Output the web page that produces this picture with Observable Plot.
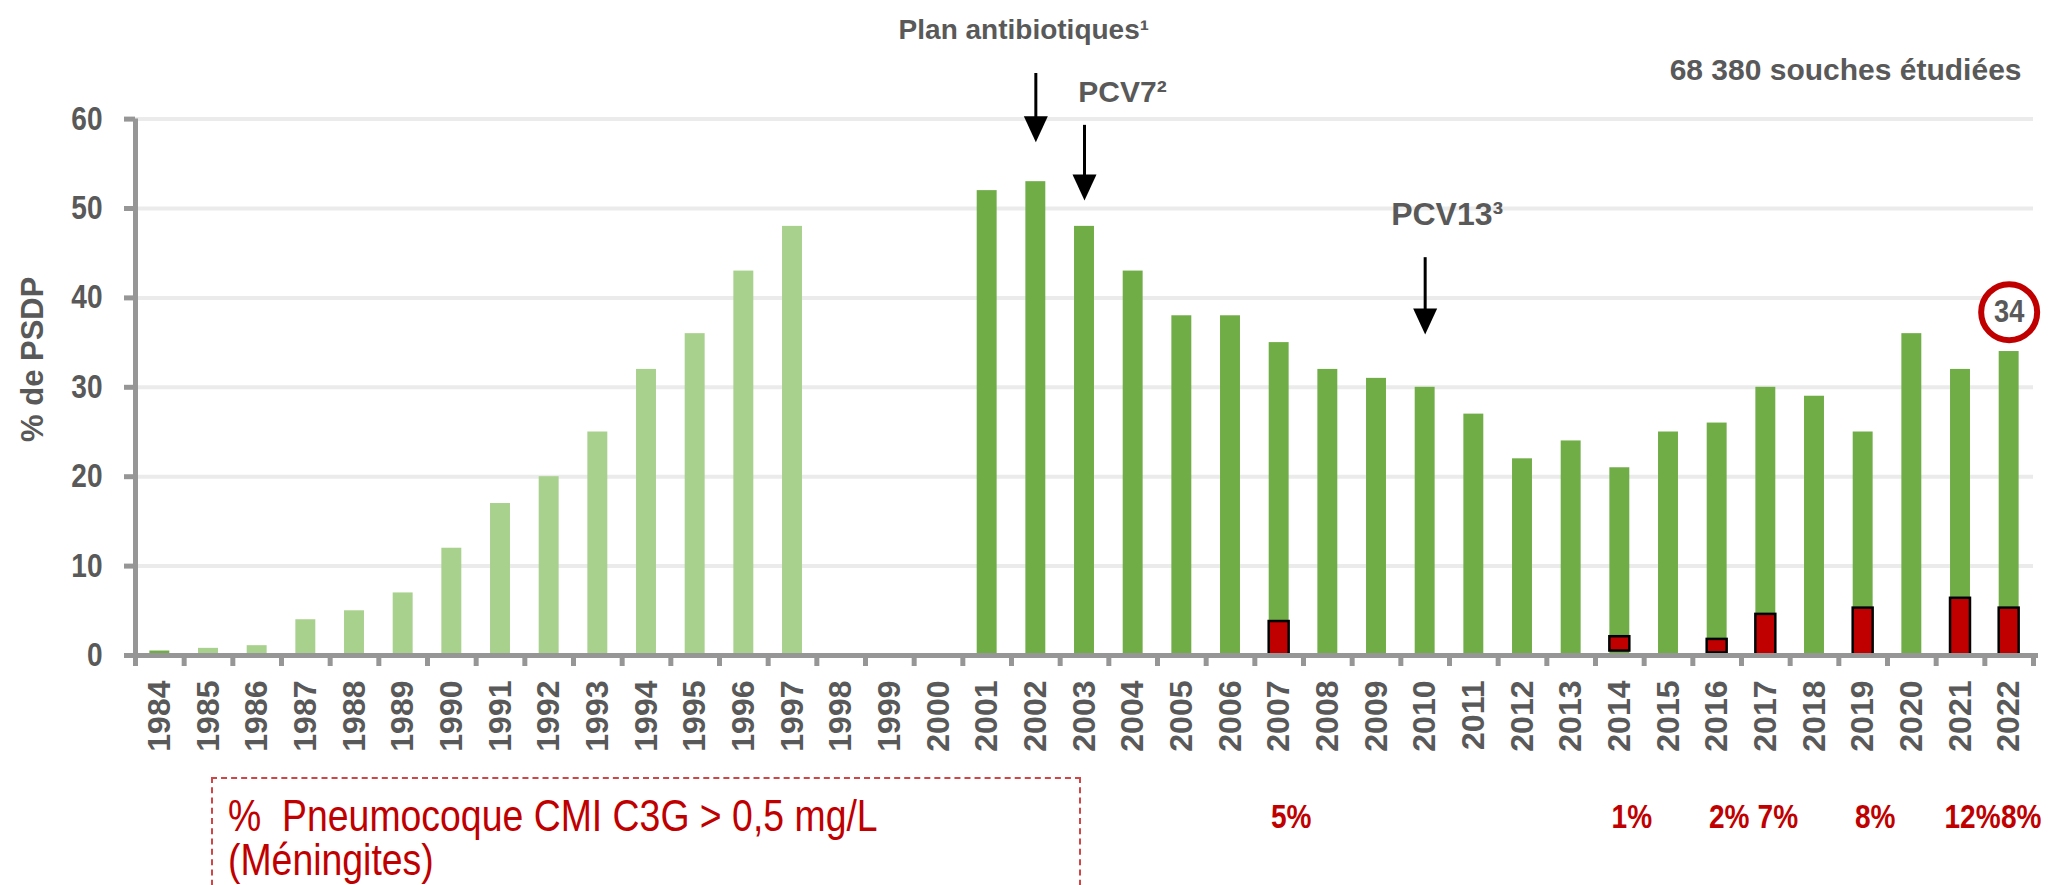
<!DOCTYPE html>
<html><head><meta charset="utf-8">
<script src="https://cdn.jsdelivr.net/npm/d3@7"></script>
<script src="https://cdn.jsdelivr.net/npm/@observablehq/plot@0.6"></script>
<style>
body{margin:0;background:#fff;overflow:hidden}
#wrap{position:relative;width:2067px;height:885px}
#box{position:absolute;left:211px;top:777px;width:870px;height:160px;border:2px dashed #d04545;box-sizing:border-box}
#legend{position:absolute;left:228px;top:794px;color:#c00000;font-family:"Liberation Sans",Arial,sans-serif;font-size:44px;line-height:44px;white-space:pre;transform:scaleX(0.85);transform-origin:0 0}
</style></head>
<body><div id="wrap"><div id="box"></div><div id="legend">%  Pneumocoque CMI C3G &gt; 0,5 mg/L
(Méningites)</div></div>
<script>
const years = [1984,1985,1986,1987,1988,1989,1990,1991,1992,1993,1994,1995,1996,1997,1998,1999,2000,2001,2002,2003,2004,2005,2006,2007,2008,2009,2010,2011,2012,2013,2014,2015,2016,2017,2018,2019,2020,2021,2022];
const lightYears = [1985,1986,1987,1988,1989,1990,1991,1992,1993,1994,1995,1996,1997];
const lightValues = [0.8,1.1,4,5,7,12,17,20,25,32,36,43,48];
const darkYears = [1984,2001,2002,2003,2004,2005,2006,2007,2008,2009,2010,2011,2012,2013,2014,2015,2016,2017,2018,2019,2020,2021,2022];
const darkValues = [0.5,52,53,48,43,38,38,35,32,31,30,27,22,24,21,25,26,30,29,25,36,32,34];
const redYears = [2007,2014,2016,2017,2019,2021,2022];
const redLow = [0,0.5,0.3,0,0,0,0];
const redHigh = [3.8,2.1,1.8,4.6,5.3,6.4,5.3];
const redLabels = ["5%","1%","2%","7%","8%","12%","8%"];
const yTicks = [0,10,20,30,40,50,60];
const annYears = [2002,2003,2010];
const annLabels = ["Plan antibiotiques¹","PCV7²","PCV13³"];
const annTextY = [70.0,63.0,49.3];
const arrowTop = [65.1,59.3,44.5];
const arrowTip = [57.4,50.9,35.9];
const highlightYear = 2022, highlightValue = 34;

const W = 2067, H = 885, ML = 135, MR = 34, MT = 118.6, MB = 230;
const half = (W - ML - MR) / years.length / 2;
const gray = "#969696", txt = "#595959", red = "#c00000";
const F = "'Liberation Sans',Arial,sans-serif";
const arrowHead = {draw(ctx){ctx.moveTo(0,0);ctx.lineTo(-12,-26);ctx.lineTo(12,-26);ctx.closePath();}};

const chart = Plot.plot({
  width: W, height: H, marginLeft: ML, marginRight: MR, marginTop: MT, marginBottom: MB,
  style: {fontFamily: F, background: "transparent", overflow: "visible"},
  x: {type: "band", domain: years, paddingInner: 0.59, paddingOuter: 0.295, round: false},
  y: {domain: [0, 60], axis: null},
  marks: [
    Plot.ruleY(yTicks.slice(1), {stroke: "#ebebeb", strokeWidth: 4}),
    Plot.barY(lightYears, {x: d => d, y: (d, i) => lightValues[i], fill: "#a9d18e"}),
    Plot.barY(darkYears, {x: d => d, y: (d, i) => darkValues[i], fill: "#70ad47"}),
    Plot.barY(redYears, {x: d => d, y1: (d, i) => redLow[i], y2: (d, i) => redHigh[i], fill: red, stroke: "#000", strokeWidth: 2.5}),
    Plot.ruleY(yTicks.slice(1), {stroke: gray, strokeWidth: 5, insetLeft: -11, insetRight: W - ML - MR}),
    Plot.ruleY([0], {stroke: gray, strokeWidth: 5, insetLeft: -11, insetRight: -5}),
    Plot.ruleX([years[0]], {x: d => d, y1: 0, y2: 60, dx: -half, stroke: gray, strokeWidth: 5}),
    Plot.ruleX(years, {x: d => d, y1: 0, y2: 0, insetBottom: -11, dx: -half, stroke: gray, strokeWidth: 5}),
    Plot.ruleX([years[years.length - 1]], {x: d => d, y1: 0, y2: 0, insetBottom: -11, dx: half, stroke: gray, strokeWidth: 5}),
    Plot.text(yTicks, {y: d => d, frameAnchor: "left", textAnchor: "end", dx: -33, text: d => String(d), fill: txt, fontSize: 33, fontWeight: "bold", className: "cond"}),
    Plot.axisX({tickSize: 0, tickPadding: 25, tickRotate: -90, tickFormat: d => String(d), fill: txt, fontSize: 32, fontWeight: "bold", label: null}),
    Plot.text(["% de PSDP"], {frameAnchor: "left", textAnchor: "middle", dx: -102, dy: -28, rotate: -90, fill: txt, fontSize: 31, fontWeight: "bold"}),
    Plot.text(["68 380 souches étudiées"], {frameAnchor: "top-right", textAnchor: "end", dx: -12, dy: -60, fill: txt, fontSize: 30, fontWeight: "bold"}),
    Plot.ruleX(annYears, {x: d => d, y1: (d, i) => arrowTop[i], y2: (d, i) => arrowTip[i], stroke: "#000", strokeWidth: 3, insetBottom: 10}),
    Plot.dot(annYears, {x: d => d, y: (d, i) => arrowTip[i], symbol: arrowHead, fill: "#000", stroke: "none"}),
    Plot.text([0], {x: () => annYears[0], y: () => annTextY[0], text: () => annLabels[0], dx: -12, fill: txt, fontSize: 28, fontWeight: "bold"}),
    Plot.text([1], {x: () => annYears[1], y: () => annTextY[1], text: () => annLabels[1], dx: 38, fill: txt, fontSize: 30, fontWeight: "bold"}),
    Plot.text([2], {x: () => annYears[2], y: () => annTextY[2], text: () => annLabels[2], dx: 22, fill: txt, fontSize: 32, fontWeight: "bold"}),
    Plot.dot([highlightYear], {x: d => d, y: highlightValue + 4.4, r: 28, stroke: red, strokeWidth: 6, fill: "white"}),
    Plot.text([highlightYear], {x: d => d, y: highlightValue + 4.4, text: () => String(highlightValue), fill: txt, fontSize: 32, fontWeight: "bold", className: "cond"}),
    Plot.text(redYears, {x: d => d, y: 0, dy: 162, text: (d, i) => redLabels[i], fill: red, fontSize: 33, fontWeight: "bold", dx: 12, className: "cond"})
  ]
});
document.getElementById("wrap").prepend(chart);
chart.style.position = "absolute"; chart.style.left = "0"; chart.style.top = "0";
d3.select(chart).selectAll(".cond text").each(function() {
  const t = this.getAttribute("transform");
  if (t) this.setAttribute("transform", t + " scale(0.85,1)");
});
</script>
</body></html>
